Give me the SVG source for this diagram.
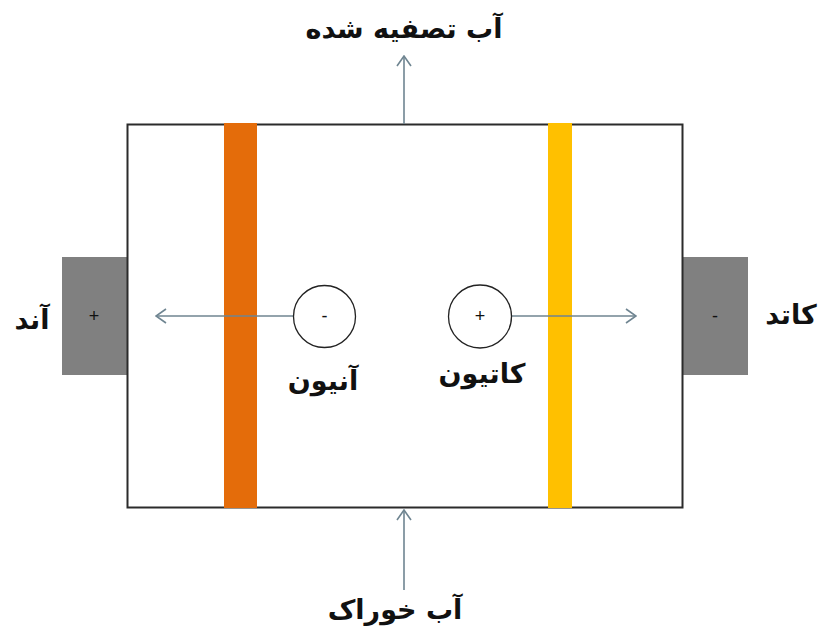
<svg xmlns="http://www.w3.org/2000/svg" width="821" height="632" viewBox="0 0 821 632">
  <style>
    .lbl { font-family: "DejaVu Sans", "Noto Sans", sans-serif; font-weight: bold; font-size: 27px; fill: #111; text-anchor: middle; }
    .sign { font-family: "Liberation Sans", Arial, sans-serif; font-size: 18px; fill: #111; text-anchor: middle; }
    .flow { stroke: #6f8591; stroke-width: 1.6; fill: none; }
    .ion { fill: #fff; stroke: #222; stroke-width: 1.3; }
    .electrode { fill: #808080; }
  </style>
  <defs>
    <marker id="open" viewBox="0 0 12 16" refX="11" refY="8" markerWidth="12" markerHeight="16" markerUnits="userSpaceOnUse" orient="auto">
      <path d="M1,1 L11,8 L1,15" fill="none" stroke="#6f8591" stroke-width="1.6"/>
    </marker>
  </defs>
  <rect width="821" height="632" fill="#fff"/>

  <!-- electrodes -->
  <g id="anode">
    <rect class="electrode" x="62" y="257" width="66" height="118"/>
    <text class="sign" x="94" y="322">+</text>
    <text class="lbl" x="32" y="329">آند</text>
  </g>
  <g id="cathode">
    <rect class="electrode" x="682" y="257" width="66" height="118"/>
    <text class="sign" x="715" y="322">-</text>
    <text class="lbl" x="791" y="324">کاتد</text>
  </g>

  <!-- cell body -->
  <g id="cell">
    <rect x="127.5" y="124.5" width="555" height="383" fill="none" stroke="#2b2b2b" stroke-width="2"/>
  </g>

  <!-- membranes -->
  <g id="anion-membrane">
    <rect x="224" y="123" width="33" height="385" fill="#e46c0a"/>
  </g>
  <g id="cation-membrane">
    <rect x="548" y="123" width="24" height="385" fill="#ffc000"/>
  </g>

  <!-- connectors -->
  <g id="connectors">
    <line class="flow" x1="293" y1="316" x2="156" y2="316" marker-end="url(#open)"/>
    <line class="flow" x1="512" y1="316" x2="636" y2="316" marker-end="url(#open)"/>
    <line class="flow" x1="404" y1="124" x2="404" y2="56" marker-end="url(#open)"/>
    <line class="flow" x1="404" y1="590" x2="404" y2="510" marker-end="url(#open)"/>
  </g>

  <!-- ions -->
  <g id="anion">
    <circle class="ion" cx="324.5" cy="316.5" r="31"/>
    <text class="sign" x="324.5" y="322">-</text>
    <text class="lbl" x="323" y="390">آنیون</text>
  </g>
  <g id="cation">
    <circle class="ion" cx="480" cy="316.5" r="31.5"/>
    <text class="sign" x="480" y="322">+</text>
    <text class="lbl" x="482" y="383">کاتیون</text>
  </g>

  <!-- streams -->
  <g id="product-water">
    <text class="lbl" x="404" y="38">آب تصفیه شده</text>
  </g>
  <g id="feed-water">
    <text class="lbl" x="395" y="619">آب خوراک</text>
  </g>
</svg>
